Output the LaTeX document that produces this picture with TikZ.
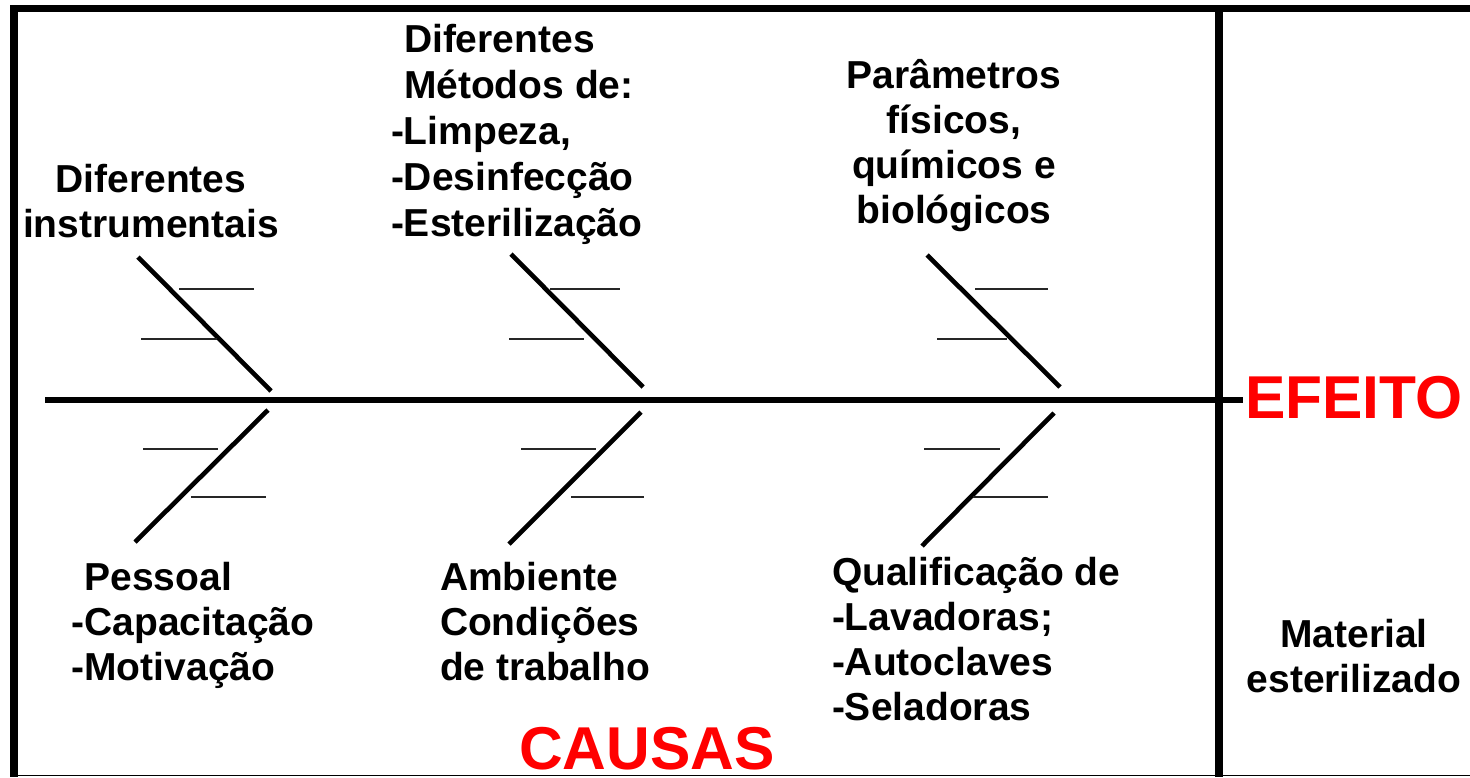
\documentclass[tikz,border=0pt]{standalone}
\usepackage{fontspec}
\setmainfont{Liberation Sans}
\begin{document}
\begin{tikzpicture}[x=1pt,y=-1pt,
  frame/.style={line width=#1, black},
  bone/.style={line width=4.6pt, black},
  tick/.style={line width=1.5pt, black!85},
  lbl/.style={inner sep=0pt, outer sep=0pt, font=\fontsize{39}{45}\selectfont\bfseries},
  lblw/.style={inner sep=0pt, outer sep=0pt, font=\fontsize{39}{46}\selectfont\bfseries},
  big/.style={inner sep=0pt, outer sep=0pt, text=red, font=\fontsize{60.5}{70}\selectfont\bfseries}]
\useasboundingbox (0,0) rectangle (1470,777);
% frame
\draw[frame=8pt] (14,5) -- (14,777);
\draw[frame=7pt] (10,8.5) -- (1470,8.5);
\draw[frame=1.5pt] (10,775.5) -- (1470,775.5);
\draw[frame=8pt] (1219,5) -- (1219,777);
% spine
\coordinate (tail) at (45,400);
\coordinate (head) at (1243,400);
\draw[line width=6pt] (tail) -- (head);
% bones
\coordinate (lu1) at (138,257); \coordinate (lu2) at (271,391);
\coordinate (ll1) at (268,410); \coordinate (ll2) at (135,542);
\coordinate (mu1) at (511,254); \coordinate (mu2) at (643,387);
\coordinate (ml1) at (641,412); \coordinate (ml2) at (509,544);
\coordinate (ru1) at (927,255); \coordinate (ru2) at (1060,387);
\coordinate (rl1) at (1054,413); \coordinate (rl2) at (922,546);
\draw[bone] (lu1) -- (lu2);
\draw[bone] (ll1) -- (ll2);
\draw[bone] (mu1) -- (mu2);
\draw[bone] (ml1) -- (ml2);
\draw[bone] (ru1) -- (ru2);
\draw[bone] (rl1) -- (rl2);
% ticks
\draw[tick] (179,289) -- (254,289);
\draw[tick] (141,339) -- (217,339);
\draw[tick] (143,449) -- (218,449);
\draw[tick] (191,497) -- (266,497);
\draw[tick] (550,289) -- (620,289);
\draw[tick] (509,339) -- (584,339);
\draw[tick] (521,449) -- (596,449);
\draw[tick] (571,497) -- (644,497);
\draw[tick] (975,289) -- (1048,289);
\draw[tick] (937,339) -- (1007,339);
\draw[tick] (924,449) -- (1000,449);
\draw[tick] (973,497) -- (1048,497);
% labels
\node[lbl, align=center, anchor=north] (instr) at (151,160.5) {\strut Diferentes\\instrumentais};
\node[lblw, align=left, anchor=north west] (metodos) at (391,19.8)
  {\strut\hspace*{13pt}Diferentes\\\hspace*{13pt}Métodos de:\\-Limpeza,\\-Desinfecção\\-Esterilização};
\node[lbl, align=center, anchor=north] (param) at (954,56.5)
  {\strut Parâmetros\\físicos,\\químicos e\\biológicos};
\node[lbl, align=left, anchor=north west] (pessoal) at (71.5,558.5)
  {\strut\hspace*{13pt}Pessoal\\-Capacitação\\-Motivação};
\node[lbl, align=left, anchor=north west] (amb) at (440,558.5)
  {\strut Ambiente\\Condições\\de trabalho};
\node[lbl, align=left, anchor=north west] (qual) at (832,553.5)
  {\strut Qualificação de\\-Lavadoras;\\-Autoclaves\\-Seladoras};
\node[lbl, align=center, anchor=north] (mat) at (1354,615.5)
  {\strut Material\\esterilizado};
\node[big, anchor=base west] (efeito) at (1245,418) {EFEITO};
\node[big, anchor=base west] (causas) at (519,769) {CAUSAS};
\end{tikzpicture}
\end{document}
